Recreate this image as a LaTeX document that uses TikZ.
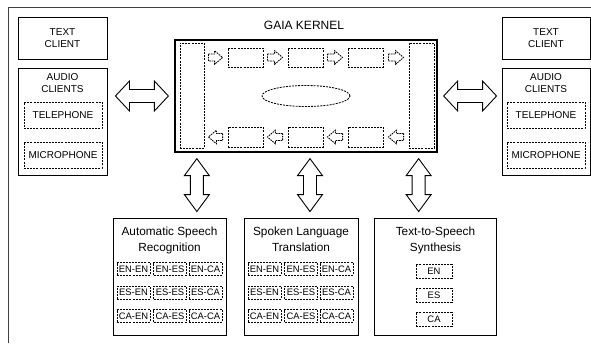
\documentclass[tikz,border=0pt]{standalone}
\usepackage{fontspec}
\setmainfont{Liberation Sans}
\usetikzlibrary{calc,shapes.geometric}

\tikzset{
  box/.style={draw, line width=0.9pt, inner sep=0pt},
  dbox/.style={draw, line width=0.85pt, dash pattern=on 2pt off 1.1pt, inner sep=0pt},
  caps/.style={font=\fontsize{10}{12}\selectfont, align=center},
  ttl/.style={font=\fontsize{11.8}{16.5}\selectfont, align=center, inner sep=0pt, anchor=north},
  cell/.style={dbox, minimum width=33pt, minimum height=13pt, font=\fontsize{9.4}{10}\selectfont},
  tcell/.style={dbox, minimum width=36pt, minimum height=14pt, font=\fontsize{9.4}{10}\selectfont},
  fat/.style={draw, line width=0.9pt, fill=white, line join=miter},
  flow/.style={draw, line width=0.85pt, dash pattern=on 1.6pt off 0.9pt, fill=white}
}

% fat double arrow, horizontal: left tip, right tip
\newcommand\hdouble[2]{%
  \draw[fat] (#1) -- ($(#1)+(14,-15)$) -- ($(#1)+(14,-6.5)$) -- ($(#2)+(-14,-6.5)$)
    -- ($(#2)+(-14,-15)$) -- (#2) -- ($(#2)+(-14,15)$) -- ($(#2)+(-14,6.5)$)
    -- ($(#1)+(14,6.5)$) -- ($(#1)+(14,15)$) -- cycle;}
% fat double arrow, vertical: top tip, bottom tip
\newcommand\vdouble[2]{%
  \draw[fat] (#1) -- ($(#1)+(-12.5,17)$) -- ($(#1)+(-6.5,17)$) -- ($(#2)+(-6.5,-17)$)
    -- ($(#2)+(-12.5,-17)$) -- (#2) -- ($(#2)+(12.5,-17)$) -- ($(#2)+(6.5,-17)$)
    -- ($(#1)+(6.5,17)$) -- ($(#1)+(12.5,17)$) -- cycle;}
% small dashed flow arrow: tail, tip, direction (1 right, -1 left)
\newcommand\flowarrow[3]{%
  \draw[flow] ($(#1)+(0,-3.5)$) -- ($(#2)+({-8*(#3)},-3.5)$) -- ($(#2)+({-8*(#3)},-6.8)$)
    -- (#2) -- ($(#2)+({-8*(#3)},6.8)$) -- ($(#2)+({-8*(#3)},3.5)$) -- ($(#1)+(0,3.5)$) -- cycle;}

\begin{document}
\begin{tikzpicture}[x=1pt,y=-1pt]
\useasboundingbox (0,0) rectangle (591,343);

% outer frame
\draw[black!75, line width=0.8pt] (8.5,343) -- (8.5,7.5) -- (591,7.5);

% ---------- left clients ----------
\node[box, caps, minimum width=89pt, minimum height=42pt] (txtL) at (62.5,38) {TEXT\\CLIENT};
\node[box, minimum width=89pt, minimum height=107pt] (audL) at (62.5,121.5) {};
\node[caps, inner sep=0pt] (audLt) at (62.5,83.5) {AUDIO\\CLIENTS};
\node[dbox, caps, minimum width=78pt, minimum height=26pt] (telL) at (63,115.5) {TELEPHONE};
\node[dbox, caps, minimum width=78pt, minimum height=26pt] (micL) at (63,155) {MICROPHONE};

% ---------- right clients ----------
\node[box, caps, minimum width=88pt, minimum height=42pt] (txtR) at (546,38) {TEXT\\CLIENT};
\node[box, minimum width=88pt, minimum height=107pt] (audR) at (546,121.5) {};
\node[caps, inner sep=0pt] (audRt) at (546,83.5) {AUDIO\\CLIENTS};
\node[dbox, caps, minimum width=78pt, minimum height=26pt] (telR) at (546,115.5) {TELEPHONE};
\node[dbox, caps, minimum width=78pt, minimum height=26pt] (micR) at (546,155) {MICROPHONE};

% ---------- kernel ----------
\node[font=\fontsize{12}{14}\selectfont] (kernt) at (304,25) {GAIA KERNEL};
\node[box, line width=1.3pt, minimum width=262pt, minimum height=112pt] (kern) at (306,96) {};
\node[dbox, minimum width=24pt, minimum height=105pt] (inL) at (192,95.5) {};
\node[dbox, minimum width=25pt, minimum height=105pt] (inR) at (421.5,95.5) {};
\foreach \i/\x in {1/245.5,2/305.5,3/365.5}{
  \node[dbox, minimum width=35pt, minimum height=19pt] (t\i) at (\x,57.5) {};
  \node[dbox, minimum width=35pt, minimum height=20pt] (b\i) at (\x,137) {};
}
\node[dbox, ellipse, minimum width=88pt, minimum height=21pt] (hub) at (306,96) {};

% forward flow (top row)
\coordinate (f1s) at ($(inL.east |- t1.west)+(4,0)$);  \coordinate (f1e) at ($(t1.west)+(-5,0)$);
\coordinate (f2s) at ($(t1.east)+(4,0)$);              \coordinate (f2e) at ($(t2.west)+(-5,0)$);
\coordinate (f3s) at ($(t2.east)+(4,0)$);              \coordinate (f3e) at ($(t3.west)+(-5,0)$);
\coordinate (f4s) at ($(t3.east)+(5,0)$);              \coordinate (f4e) at ($(inR.west |- t3.east)+(-5,0)$);
\flowarrow{f1s}{f1e}{1}
\flowarrow{f2s}{f2e}{1}
\flowarrow{f3s}{f3e}{1}
\flowarrow{f4s}{f4e}{1}
% backward flow (bottom row)
\coordinate (r1s) at ($(b1.west)+(-5,0)$);             \coordinate (r1e) at ($(inL.east |- b1.west)+(4,0)$);
\coordinate (r2s) at ($(b2.west)+(-5,0)$);             \coordinate (r2e) at ($(b1.east)+(4,0)$);
\coordinate (r3s) at ($(b3.west)+(-5,0)$);             \coordinate (r3e) at ($(b2.east)+(4,0)$);
\coordinate (r4s) at ($(inR.west |- b3.east)+(-5,0)$); \coordinate (r4e) at ($(b3.east)+(5,0)$);
\flowarrow{r1s}{r1e}{-1}
\flowarrow{r2s}{r2e}{-1}
\flowarrow{r3s}{r3e}{-1}
\flowarrow{r4s}{r4e}{-1}

% ---------- engines ----------
\node[box, minimum width=113pt, minimum height=117pt] (asr) at (169.5,276.5) {};
\node[ttl] (asrt) at (169.5,226.5) {Automatic Speech\\Recognition};
\node[box, minimum width=114pt, minimum height=117pt] (slt) at (301,276.5) {};
\node[ttl] (sltt) at (301,226.5) {Spoken Language\\Translation};
\node[box, minimum width=122pt, minimum height=117pt] (tts) at (435.5,276.5) {};
\node[ttl] (ttst) at (435.5,226.5) {Text-to-Speech\\Synthesis};

\foreach \r/\y/\a in {1/269.5/EN,2/293/ES,3/316.5/CA}{
  \foreach \c/\dx/\b in {1/21/EN,2/57.5/ES,3/93/CA}{
    \node[cell] (asr\r\c) at ($(asr.north west)+(\dx,\y-218)$) {\a-\b};
    \node[cell] (slt\r\c) at ($(slt.north west)+(\dx,\y-218)$) {\a-\b};
  }
}
\node[tcell] (ttsEN) at (434,271) {EN};
\node[tcell] (ttsES) at (434,295) {ES};
\node[tcell] (ttsCA) at (434,319) {CA};

% ---------- fat connectors ----------
\coordinate (hl1) at ($(audL.east |- kern.west)+(8,0)$);
\coordinate (hl2) at ($(kern.west)+(-6,0)$);
\coordinate (hr1) at ($(kern.east)+(6,0)$);
\coordinate (hr2) at ($(audR.west |- kern.east)+(-5,0)$);
\hdouble{hl1}{hl2}
\hdouble{hr1}{hr2}

\coordinate (v1t) at ($(kern.south west)+(22.5,6)$);
\coordinate (v1b) at ($(v1t |- asr.north)+(0,-6)$);
\coordinate (v2t) at ($(kern.south)+(4,6)$);
\coordinate (v2b) at ($(v2t |- slt.north)+(0,-6)$);
\coordinate (v3t) at ($(kern.south east)+(-19,6)$);
\coordinate (v3b) at ($(v3t |- tts.north)+(0,-6)$);
\vdouble{v1t}{v1b}
\vdouble{v2t}{v2b}
\vdouble{v3t}{v3b}
\end{tikzpicture}
\end{document}
